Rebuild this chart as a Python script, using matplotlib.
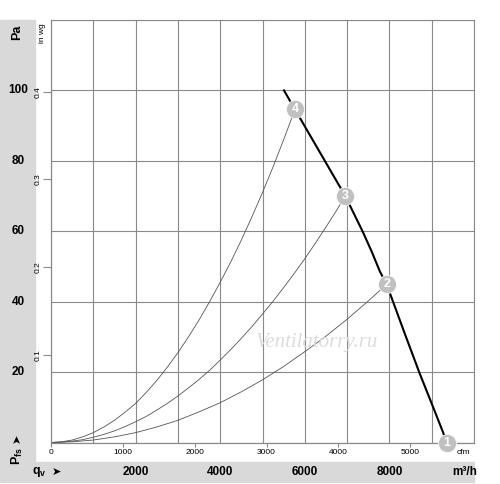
import matplotlib
matplotlib.use("Agg")
import matplotlib.pyplot as plt
from matplotlib.patches import Rectangle
from matplotlib.transforms import blended_transform_factory

plt.rcParams["font.family"] = ["Liberation Sans", "DejaVu Sans"]
plt.rcParams["mathtext.fontset"] = "custom"
plt.rcParams["mathtext.rm"] = "Liberation Sans"
plt.rcParams["mathtext.bf"] = "Liberation Sans:bold"

# fan curve (m3/h, Pa)
fan_q = [5508, 5768, 6478, 6957, 7369, 7582, 7778, 7936, 8092, 8392, 8710, 9035, 9265, 9355]
fan_p = [100, 94.6, 79.9, 70.0, 59.9, 54.2, 48.5, 44.9, 39.8, 30.0, 19.8, 10.0, 3.0, 0]

# system curves through the operating points
sys4_q = [0, 250, 500, 750, 1000, 1250, 1500, 1750, 2000, 2250, 2500, 2750, 3000,
          3250, 3500, 3750, 4000, 4250, 4500, 4750, 5000, 5250, 5500, 5768]
sys4_p = [0, 0.2, 0.7, 1.6, 2.8, 4.4, 6.3, 8.6, 11.1, 14.2, 17.6, 21.4, 25.5,
          30.0, 34.8, 40.0, 45.5, 51.3, 57.5, 64.1, 71.0, 78.3, 86.0, 94.6]
sys3_q = [0, 250, 500, 750, 1000, 1250, 1500, 1750, 2000, 2250, 2500, 2750, 3000,
          3250, 3500, 3750, 4000, 4250, 4500, 4750, 5000, 5250, 5500, 5750, 6000,
          6250, 6500, 6750, 6957]
sys3_p = [0, 0.1, 0.4, 0.8, 1.5, 2.3, 3.3, 4.5, 5.9, 7.4, 9.2, 11.1, 13.2,
          15.5, 17.9, 20.5, 23.4, 26.4, 29.6, 32.9, 36.5, 40.1, 44.0, 48.0, 52.2,
          56.6, 61.2, 65.9, 70.0]
sys2_q = [0, 500, 1000, 1500, 2000, 2500, 3000, 3500, 4000, 4500, 5000, 5500,
          6000, 6500, 7000, 7500, 7936]
sys2_p = [0, 0.2, 0.7, 1.6, 2.8, 4.4, 6.3, 8.7, 11.3, 14.4, 17.8, 21.6,
          25.8, 30.2, 35.0, 40.2, 44.9]

# operating points
op_q = [9355, 7936, 6957, 5768]
op_p = [0, 44.9, 70.0, 94.6]
op_labels = ["1", "2", "3", "4"]

pa_ticks = [20, 40, 60, 80, 100]
m3h_labels = [2000, 4000, 6000, 8000]
cfm_ticks = [0, 1000, 2000, 3000, 4000, 5000]
inwg_ticks = [0.1, 0.2, 0.3, 0.4]

CFM = 1.699
INWG = 249.09
grid_c = "#8a8a8a"
band_c = "#d9d9d9"

W, H = 500, 484
fig = plt.figure(figsize=(W / 100, H / 100), dpi=100)


def px(x, y):
    # pixel position -> figure fraction
    return x / W, 1 - y / H


# grey label bands (behind everything)
fig.patches.append(Rectangle(px(0, 462), 35 / W, 442 / H,
                             transform=fig.transFigure, color=band_c, zorder=-5))
fig.patches.append(Rectangle(px(0, 482), 474 / W, 20 / H,
                             transform=fig.transFigure, color=band_c, zorder=-5))

ax = fig.add_axes([51 / W, 1 - 442.5 / H, 423 / W, 422.5 / H])
ax.set_xlim(0, 10000)
ax.set_ylim(0, 120)
ax.set_xticks(range(0, 10001, 1000))
ax.set_yticks(range(0, 121, 20))
ax.tick_params(bottom=False, left=False, labelbottom=False, labelleft=False)
ax.grid(True, color=grid_c, lw=0.8)
ax.set_axisbelow(True)
for s in ax.spines.values():
    s.set_color(grid_c)
    s.set_linewidth(0.8)

ax.plot(sys4_q, sys4_p, color="#555555", lw=0.6)
ax.plot(sys3_q, sys3_p, color="#555555", lw=0.6)
ax.plot(sys2_q, sys2_p, color="#555555", lw=0.6)
ax.plot(fan_q, fan_p, color="black", lw=1.5, zorder=4)

ax.plot(op_q, op_p, "o", ms=13, color="#c0c0c0", mec="white", mew=0.5,
        clip_on=False, zorder=5)
for q, p, t in zip(op_q, op_p, op_labels):
    ax.text(q, p, t, color="white", fontsize=9, fontweight="bold",
            ha="center", va="center", zorder=6, clip_on=False)

ax.text(6300, 28.5, "Ventilatorry.ru", fontsize=15, style="italic",
        family="Liberation Serif", color="#dcdcdc", ha="center", va="center",
        zorder=3)

# cfm axis
sx = ax.secondary_xaxis("bottom", functions=(lambda x: x / CFM, lambda x: x * CFM))
sx.set_xticks(cfm_ticks)
sx.set_xticklabels([str(v) for v in cfm_ticks])
sx.tick_params(direction="out", length=3, width=0.8, color=grid_c,
               labelsize=6, pad=1.5)
sx.spines["bottom"].set_color(grid_c)
fig.text(*px(463, 453), "cfm", fontsize=6, ha="center", va="center")

# in wg axis
sy = ax.secondary_yaxis("left", functions=(lambda y: y / INWG, lambda y: y * INWG))
sy.set_yticks(inwg_ticks)
sy.set_yticklabels([str(v) for v in inwg_ticks], rotation=90, va="center")
sy.tick_params(direction="out", length=6, width=0.8, color=grid_c,
               labelsize=6, pad=1)
sy.spines["left"].set_color(grid_c)
fig.text(*px(42, 33), "in wg", fontsize=6, rotation=90, ha="center", va="center")

# Pa labels in the grey band
tr = blended_transform_factory(fig.transFigure, ax.transData)
for v in pa_ticks:
    ax.text(18 / W, v, str(v), transform=tr, fontsize=8.5, fontweight="bold",
            ha="center", va="center", clip_on=False)
fig.text(*px(17, 32), "Pa", fontsize=9, fontweight="bold", rotation=90,
         ha="center", va="center")
fig.text(*px(17, 456), r"$\mathbf{P_{fs}}$", fontsize=9, rotation=90,
         ha="center", va="center")
fig.text(*px(17, 438), "\u27a4", fontsize=8, rotation=90, ha="center",
         va="center", family="DejaVu Sans")

# m3/h labels in the bottom band
trx = blended_transform_factory(ax.transData, fig.transFigure)
for v in m3h_labels:
    ax.text(v, 1 - 472 / H, str(v), transform=trx, fontsize=8.5,
            fontweight="bold", ha="center", va="center", clip_on=False)
fig.text(*px(465, 472), "m³/h", fontsize=8.5, fontweight="bold",
         ha="center", va="center")
fig.text(*px(39, 472), r"$\mathbf{q_v}$", fontsize=9, ha="center", va="center")
fig.text(*px(56, 472), "\u27a4", fontsize=8, ha="center", va="center",
         family="DejaVu Sans")

fig.savefig("out.png", dpi=100)
